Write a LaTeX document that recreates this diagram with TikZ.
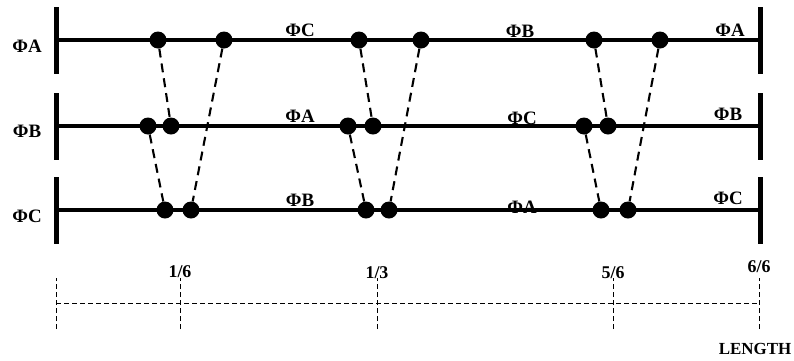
\documentclass[tikz,border=0pt]{standalone}
\usepackage{fontspec}
\setmainfont{Liberation Serif}
\begin{document}
\begin{tikzpicture}[x=1bp,y=-1bp,
  rail/.style={line width=4bp},
  endbar/.style={line width=5bp},
  dot/.style={circle,fill=black,inner sep=0pt,minimum size=17bp},
  link/.style={line width=2.1bp,dash pattern=on 9bp off 6bp},
  phase/.style={font=\bfseries\fontsize{19}{19}\selectfont,inner sep=0pt},
  frac/.style={font=\bfseries\fontsize{18}{18}\selectfont,inner sep=0pt},
  axis/.style={line width=0.8bp,dash pattern=on 5bp off 3bp}]
\useasboundingbox (0,0) rectangle (794,360);

% phase names at the left of each conductor
\node[phase] (la) at (27,46)  {ΦA};
\node[phase] (lb) at (27,131) {ΦB};
\node[phase] (lc) at (27,216) {ΦC};

% phase carried along each section
\node[phase] (a1) at (300,30)  {ΦC};
\node[phase] (a2) at (520,31)  {ΦB};
\node[phase] (a3) at (730,30)  {ΦA};
\node[phase] (b1) at (300,116) {ΦA};
\node[phase] (b2) at (522,118) {ΦC};
\node[phase] (b3) at (728,114) {ΦB};
\node[phase] (c1) at (300,200) {ΦB};
\node[phase] (c2) at (522,207) {ΦA};
\node[phase] (c3) at (728,198) {ΦC};

% conductors and end bars
\coordinate (As) at (56,40);  \coordinate (Ae) at (760,40);
\coordinate (Bs) at (56,126); \coordinate (Be) at (760,126);
\coordinate (Cs) at (56,210); \coordinate (Ce) at (760,210);
\draw[rail] (As) -- (Ae);
\draw[rail] (Bs) -- (Be);
\draw[rail] (Cs) -- (Ce);
\foreach \p in {As,Ae,Bs,Be,Cs,Ce}
  \draw[endbar] ([yshift=-33.5bp]\p) -- ([yshift=33.5bp]\p);

% transposition points
\node[dot] (A1) at (158,40) {};
\node[dot] (A2) at (224,40) {};
\node[dot] (A3) at (359,40) {};
\node[dot] (A4) at (421,40) {};
\node[dot] (A5) at (594,40) {};
\node[dot] (A6) at (660,40) {};
\node[dot] (B1) at (148,126) {};
\node[dot] (B2) at (171,126) {};
\node[dot] (B3) at (348,126) {};
\node[dot] (B4) at (373,126) {};
\node[dot] (B5) at (584,126) {};
\node[dot] (B6) at (608,126) {};
\node[dot] (C1) at (165,210) {};
\node[dot] (C2) at (191,210) {};
\node[dot] (C3) at (366,210) {};
\node[dot] (C4) at (389,210) {};
\node[dot] (C5) at (601,210) {};
\node[dot] (C6) at (628,210) {};

% crossovers
\draw[link] (A1) -- (B2);
\draw[link] (B1) -- (C1);
\draw[link] (A2) -- (C2);
\draw[link] (A3) -- (B4);
\draw[link] (B3) -- (C3);
\draw[link] (A4) -- (C4);
\draw[link] (A5) -- (B6);
\draw[link] (B5) -- (C5);
\draw[link] (A6) -- (C6);

% length axis
\coordinate (t0) at (56,303);
\coordinate (t1) at (180,303);
\coordinate (t2) at (377,303);
\coordinate (t3) at (613,303);
\coordinate (t4) at (759,303);
\draw[axis] (t0) -- (t4);
\foreach \t in {t0,t1,t2,t3,t4}
  \draw[axis] ([yshift=-26bp]\t) -- ([yshift=25bp]\t);
\node[frac] (f1) at (180,272) {1/6};
\node[frac] (f2) at (377,273) {1/3};
\node[frac] (f3) at (613,273) {5/6};
\node[frac] (f4) at (759,267) {6/6};
\node[frac,font=\bfseries\fontsize{17}{17}\selectfont] (len) at (755,349) {LENGTH};
\end{tikzpicture}
\end{document}
